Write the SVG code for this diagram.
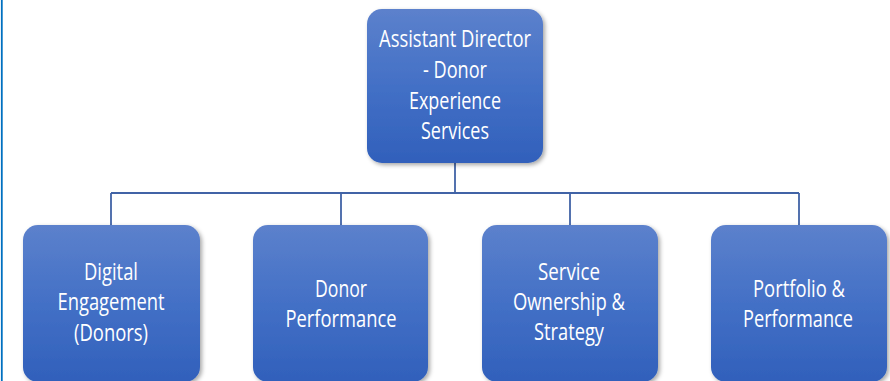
<svg xmlns="http://www.w3.org/2000/svg" width="890" height="381" viewBox="0 0 890 381">
  <defs>
    <linearGradient id="boxFill" x1="0" y1="0" x2="0" y2="1">
      <stop offset="0" stop-color="#5c81cc"/>
      <stop offset="0.5" stop-color="#4370c6"/>
      <stop offset="1" stop-color="#3160bb"/>
    </linearGradient>
    <filter id="shadow" x="-10%" y="-10%" width="125%" height="125%">
      <feDropShadow dx="2" dy="2" stdDeviation="2" flood-color="#000" flood-opacity="0.35"/>
    </filter>
  </defs>
  <style>
    .box { fill: url(#boxFill); filter: url(#shadow); }
    .label { font-family: "Open Sans", "Liberation Sans", sans-serif; font-size: 23px; fill: #ffffff; text-anchor: middle; }
    .link { stroke: #4163a6; stroke-width: 1.8; fill: none; }
  </style>

  <rect width="890" height="381" fill="#ffffff"/>
  <!-- page edge -->
  <line x1="1.8" y1="0" x2="1.8" y2="381" stroke="#0070c0" stroke-width="1.8"/>

  <g id="connectors">
    <line class="link" x1="455" y1="163" x2="455" y2="193"/>
    <line class="link" x1="111" y1="193" x2="799" y2="193"/>
    <line class="link" x1="111" y1="193" x2="111" y2="226"/>
    <line class="link" x1="341" y1="193" x2="341" y2="226"/>
    <line class="link" x1="570" y1="193" x2="570" y2="226"/>
    <line class="link" x1="799" y1="193" x2="799" y2="226"/>
  </g>

  <g id="assistant-director">
    <rect class="box" x="367" y="9" width="176" height="154" rx="15"/>
    <text class="label" x="455" y="47" textLength="152" lengthAdjust="spacingAndGlyphs">Assistant Director</text>
    <text class="label" x="455" y="78" textLength="64" lengthAdjust="spacingAndGlyphs">- Donor</text>
    <text class="label" x="455" y="109" textLength="92" lengthAdjust="spacingAndGlyphs">Experience</text>
    <text class="label" x="455" y="139" textLength="68" lengthAdjust="spacingAndGlyphs">Services</text>
  </g>

  <g id="digital-engagement">
    <rect class="box" x="23" y="225" width="177" height="157" rx="15"/>
    <text class="label" x="111" y="280" textLength="54" lengthAdjust="spacingAndGlyphs">Digital</text>
    <text class="label" x="111" y="310" textLength="107" lengthAdjust="spacingAndGlyphs">Engagement</text>
    <text class="label" x="111" y="341" textLength="74" lengthAdjust="spacingAndGlyphs">(Donors)</text>
  </g>

  <g id="donor-performance">
    <rect class="box" x="253" y="225" width="175" height="157" rx="15"/>
    <text class="label" x="341" y="297" textLength="52" lengthAdjust="spacingAndGlyphs">Donor</text>
    <text class="label" x="341" y="327" textLength="111" lengthAdjust="spacingAndGlyphs">Performance</text>
  </g>

  <g id="service-ownership">
    <rect class="box" x="482" y="225" width="176" height="157" rx="15"/>
    <text class="label" x="569" y="280" textLength="62" lengthAdjust="spacingAndGlyphs">Service</text>
    <text class="label" x="569" y="310" textLength="112" lengthAdjust="spacingAndGlyphs">Ownership &amp;</text>
    <text class="label" x="569" y="340" textLength="70" lengthAdjust="spacingAndGlyphs">Strategy</text>
  </g>

  <g id="portfolio-performance">
    <rect class="box" x="711" y="225" width="176" height="157" rx="15"/>
    <text class="label" x="799" y="297" textLength="92" lengthAdjust="spacingAndGlyphs">Portfolio &amp;</text>
    <text class="label" x="798" y="327" textLength="110" lengthAdjust="spacingAndGlyphs">Performance</text>
  </g>
</svg>
